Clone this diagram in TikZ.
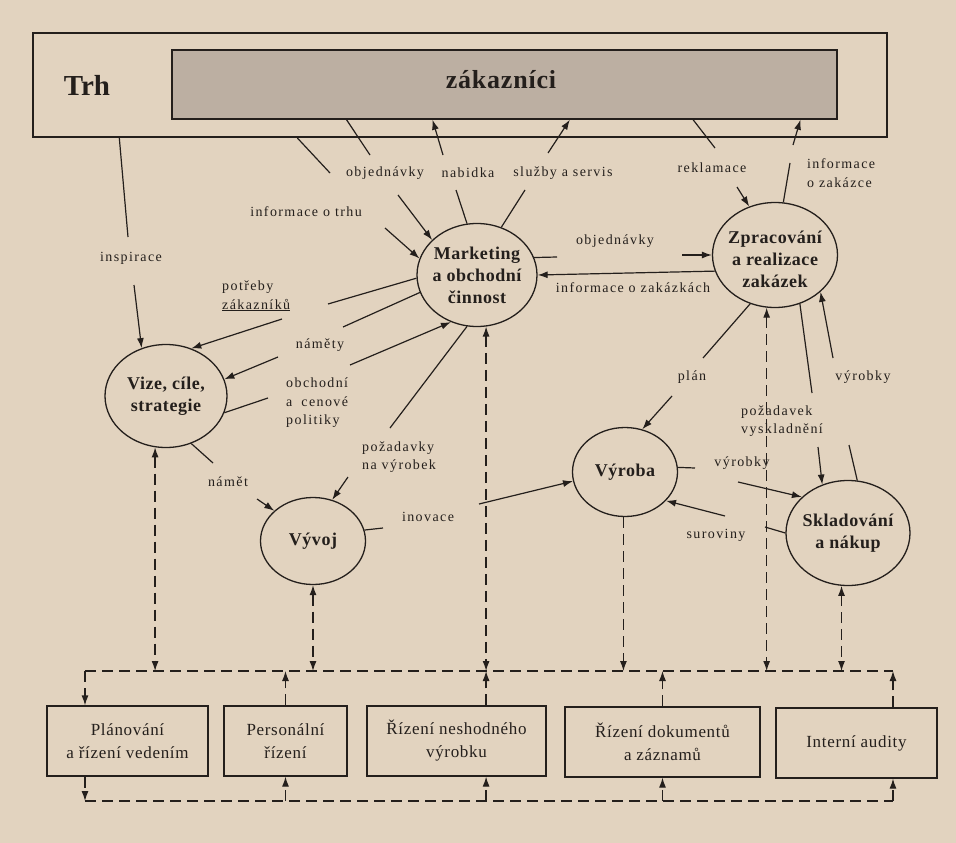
\documentclass[tikz,border=0pt]{standalone}
\usepackage{fontspec}
\setmainfont{Liberation Serif}
\newfontfamily\lblfont[LetterSpace=10]{Liberation Serif}
\newfontfamily\boxfont[LetterSpace=4]{Liberation Serif}
\newfontfamily\ellfont[LetterSpace=3]{Liberation Serif}
\usetikzlibrary{shapes.geometric,arrows.meta,calc}
\definecolor{paper}{RGB}{226,211,191}
\definecolor{ink}{RGB}{36,31,28}
\definecolor{crowd}{RGB}{188,175,162}

\begin{document}
\begin{tikzpicture}[x=1pt,y=-1pt,
  proc/.style={ellipse, draw=ink, line width=1.3pt, inner sep=0pt},
  ptext/.style={align=center, inner sep=0pt, text=ink,
    font=\ellfont\bfseries\fontsize{18}{22}\selectfont},
  unit/.style={rectangle, draw=ink, line width=1.2pt, minimum height=70,
    inner sep=0pt, align=center, text=ink,
    font=\boxfont\fontsize{17}{23}\selectfont},
  lbl/.style={inner sep=1pt, text=ink, align=left,
    font=\lblfont\fontsize{14}{18.5}\selectfont},
  flow/.style={draw=ink, line width=1.2pt},
  tip/.style={flow, -{Latex[length=10pt,width=7pt]}},
  dsh/.style={flow, dash pattern=on 11pt off 6pt},
  dtip/.style={dsh, -{Latex[length=10pt,width=7pt]}},
  dboth/.style={dsh, {Latex[length=10pt,width=7pt]}-{Latex[length=10pt,width=7pt]}}
]
% paper
\fill[paper] (0,0) rectangle (956,843);
\useasboundingbox (0,0) rectangle (956,843);

% market frame and customers
\node[draw=ink, line width=2pt, minimum width=854, minimum height=104, inner sep=0pt] (trh) at (460,85) {};
\node[draw=ink, fill=crowd, line width=1.5pt, minimum width=665, minimum height=69, inner sep=0pt] (zak) at (504.5,84.5) {};
\node[text=ink, font=\bfseries\fontsize{29}{30}\selectfont] (trhlbl) at (87,85) {Trh};
\node[text=ink, font=\ellfont\bfseries\fontsize{26}{30}\selectfont] (zaklbl) at (501,80) {zákazníci};

% processes
\node[proc, minimum width=120, minimum height=103,
  label={[ptext]center:{Marketing\\a obchodní\\činnost}}] (mk) at (477,275) {};
\node[proc, minimum width=125, minimum height=105,
  label={[ptext, yshift=-4pt]center:{Zpracování\\a realizace\\zakázek}}] (zp) at (775,255) {};
\node[proc, minimum width=122, minimum height=103,
  label={[ptext]center:{Vize, cíle,\\strategie}}] (vize) at (166,396) {};
\node[proc, minimum width=105, minimum height=87,
  label={[ptext]center:{Vývoj}}] (vyvoj) at (313,541) {};
\node[proc, minimum width=105, minimum height=89,
  label={[ptext]center:{Výroba}}] (vyroba) at (625,472) {};
\node[proc, minimum width=124, minimum height=105,
  label={[ptext]center:{Skladování\\a nákup}}] (skl) at (848,533) {};

% support units
\node[unit, minimum width=161] (plan) at (127.5,741) {Plánování\\a řízení vedením};
\node[unit, minimum width=123] (pers) at (285.5,741) {Personální\\řízení};
\node[unit, minimum width=179] (nesh) at (456.5,741) {Řízení neshodného\\výrobku};
\node[unit, minimum width=195] (dok) at (662.5,742) {Řízení dokumentů\\a záznamů};
\node[unit, minimum width=161] (audit) at (856.5,743) {Interní audity};

% flow labels
\node[lbl] (l-ins) at (131,258) {inspirace};
\node[lbl] (l-it) at (306,212) {informace o trhu};
\node[lbl] (l-ob) at (385,173) {objednávky};
\node[lbl] (l-nb) at (468,173) {nabidka};
\node[lbl] (l-sv) at (563,173) {služby a servis};
\node[lbl] (l-rk) at (712,168) {reklamace};
\node[lbl, anchor=west] (l-iz) at (806,173) {informace\\o zakázce};
\node[lbl] (l-ob2) at (615,241) {objednávky};
\node[lbl] (l-izk) at (633,288) {informace o zakázkách};
\node[lbl, anchor=west] (l-pt) at (221,296) {potřeby\\\underline{zákazníků}};
\node[lbl] (l-nm) at (320,345) {náměty};
\node[lbl, anchor=west] (l-op) at (285,403) {obchodní\\a\hspace{9pt}cenové\\politiky};
\node[lbl, anchor=west] (l-pv) at (361,457) {požadavky\\na výrobek};
\node[lbl] (l-n1) at (228,482) {námět};
\node[lbl] (l-in) at (428,517) {inovace};
\node[lbl] (l-pl) at (692,377) {plán};
\node[lbl, anchor=west] (l-pz) at (740,421) {požadavek\\vyskladnění};
\node[lbl] (l-vy) at (863,377) {výrobky};
\node[lbl] (l-v2) at (742,463) {výrobky};
\node[lbl] (l-sr) at (716,535) {suroviny};

% free ends of the flow lines beside their labels
\coordinate (insA) at (128,237);  \coordinate (insB) at (134,285);
\coordinate (itA) at (330,173);   \coordinate (itB) at (385,228);
\coordinate (obA) at (370,155);   \coordinate (obB) at (398,195);
\coordinate (nbA) at (443,155);   \coordinate (nbB) at (456,190);
\coordinate (svA) at (548,153);   \coordinate (svB) at (525,190);
\coordinate (rkA) at (715,148);   \coordinate (rkB) at (737,187);
\coordinate (izA) at (790,163);   \coordinate (izB) at (793,145);
\coordinate (ob2A) at (557,257);  \coordinate (ob2B) at (682,255);
\coordinate (ptA) at (328,304);   \coordinate (ptB) at (282,319);
\coordinate (nmA) at (343,327);   \coordinate (nmB) at (278,357);
\coordinate (opA) at (268,398);   \coordinate (opB) at (350,365);
\coordinate (pvA) at (390,428);   \coordinate (pvB) at (348,477);
\coordinate (n1A) at (213,463);   \coordinate (n1B) at (257,499);
\coordinate (inA) at (383,528);   \coordinate (inB) at (479,504);
\coordinate (plA) at (703,358);   \coordinate (plB) at (672,396);
\coordinate (pzA) at (812,393);   \coordinate (pzB) at (818,447);
\coordinate (vyA) at (849,445);   \coordinate (vyB) at (833,358);
\coordinate (v2A) at (695,468);   \coordinate (v2B) at (738,482);
\coordinate (srA) at (765,527);   \coordinate (srB) at (725,516);

% market flows
\draw[flow] ($(trh.south west)!0.102!(trh.south east)$) -- (insA);
\draw[tip] (insB) -- (vize.117);
\draw[flow] ($(trh.south west)!0.310!(trh.south east)$) -- (itA);
\draw[tip] (itB) -- (mk.164);
\draw[flow] ($(zak.south west)!0.263!(zak.south east)$) -- (obA);
\draw[tip] (obB) -- (mk.142);
\draw[tip] (nbA) -- ($(zak.south west)!0.392!(zak.south east)$);
\draw[flow] (mk.101) -- (nbB);
\draw[tip] (svA) -- ($(zak.south west)!0.598!(zak.south east)$);
\draw[flow] (mk.63) -- (svB);
\draw[flow] ($(zak.south west)!0.783!(zak.south east)$) -- (rkA);
\draw[tip] (rkB) -- (zp.118);
\draw[flow] (zp.81) -- (izA);
\draw[tip] (izB) -- ($(zak.south west)!0.944!(zak.south east)$);

% flows between processes
\draw[flow] (mk.17) -- (ob2A);
\draw[tip] (ob2B) -- (zp.180);
\draw[tip] (zp.195) -- (mk.0);
\draw[flow] (mk.183) -- (ptA);
\draw[tip] (ptB) -- (vize.62);
\draw[flow] (mk.197) -- (nmA);
\draw[tip] (nmB) -- (vize.16);
\draw[flow] (vize.344) -- (opA);
\draw[tip] (opB) -- (mk.241);
\draw[flow] (mk.259) -- (pvA);
\draw[tip] (pvB) -- (vyvoj.65);
\draw[flow] (vize.298) -- (n1A);
\draw[tip] (n1B) -- (vyvoj.142);
\draw[flow] (vyvoj.12) -- (inA);
\draw[tip] (inB) -- (vyroba.190);
\draw[flow] (zp.243) -- (plA);
\draw[tip] (plB) -- (vyroba.68);
\draw[flow] (zp.297) -- (pzA);
\draw[tip] (pzB) -- (skl.118);
\draw[flow] (skl.80) -- (vyA);
\draw[tip] (vyB) -- (zp.321);
\draw[flow] (vyroba.5) -- (v2A);
\draw[tip] (v2B) -- (skl.142);
\draw[flow] (skl.180) -- (srA);
\draw[tip] (srB) -- (vyroba.325);

% dashed information buses
\coordinate (busTL) at (85,671);  \coordinate (busTR) at (893,671);
\coordinate (busBL) at (85,801);  \coordinate (busBR) at (893,801);
\draw[dsh] (busTL) -- (busTR);
\draw[dsh] (busBL) -- (busBR);
\draw[dtip] (busTL) -- (busTL |- plan.north);
\draw[dtip] (busTL |- plan.south) -- (busBL);
\draw[dtip] (busTR |- audit.north) -- (busTR);
\draw[dtip] (busBR) -- (busBR |- audit.south);
\draw[dtip] (pers.north) -- (pers.north |- busTL);
\draw[dtip] (pers.south |- busBL) -- (pers.south);
\draw[dtip] (mk.280 |- nesh.north) -- (mk.280 |- busTL);
\draw[dtip] (mk.280 |- busBL) -- (mk.280 |- nesh.south);
\draw[dtip] (dok.north) -- (dok.north |- busTL);
\draw[dtip] (dok.south |- busBL) -- (dok.south);

% dashed links from the processes down to the bus
\draw[dboth] (vize.258) -- (vize.258 |- busTL);
\draw[dboth] (vyvoj.south) -- (vyvoj.south |- busTL);
\draw[dboth] (mk.280) -- (mk.280 |- busTL);
\draw[dtip] (vyroba.268) -- (vyroba.268 |- busTL);
\draw[dboth] (zp.261) -- (zp.261 |- busTL);
\draw[dboth] (skl.263) -- (skl.263 |- busTL);
\end{tikzpicture}
\end{document}
